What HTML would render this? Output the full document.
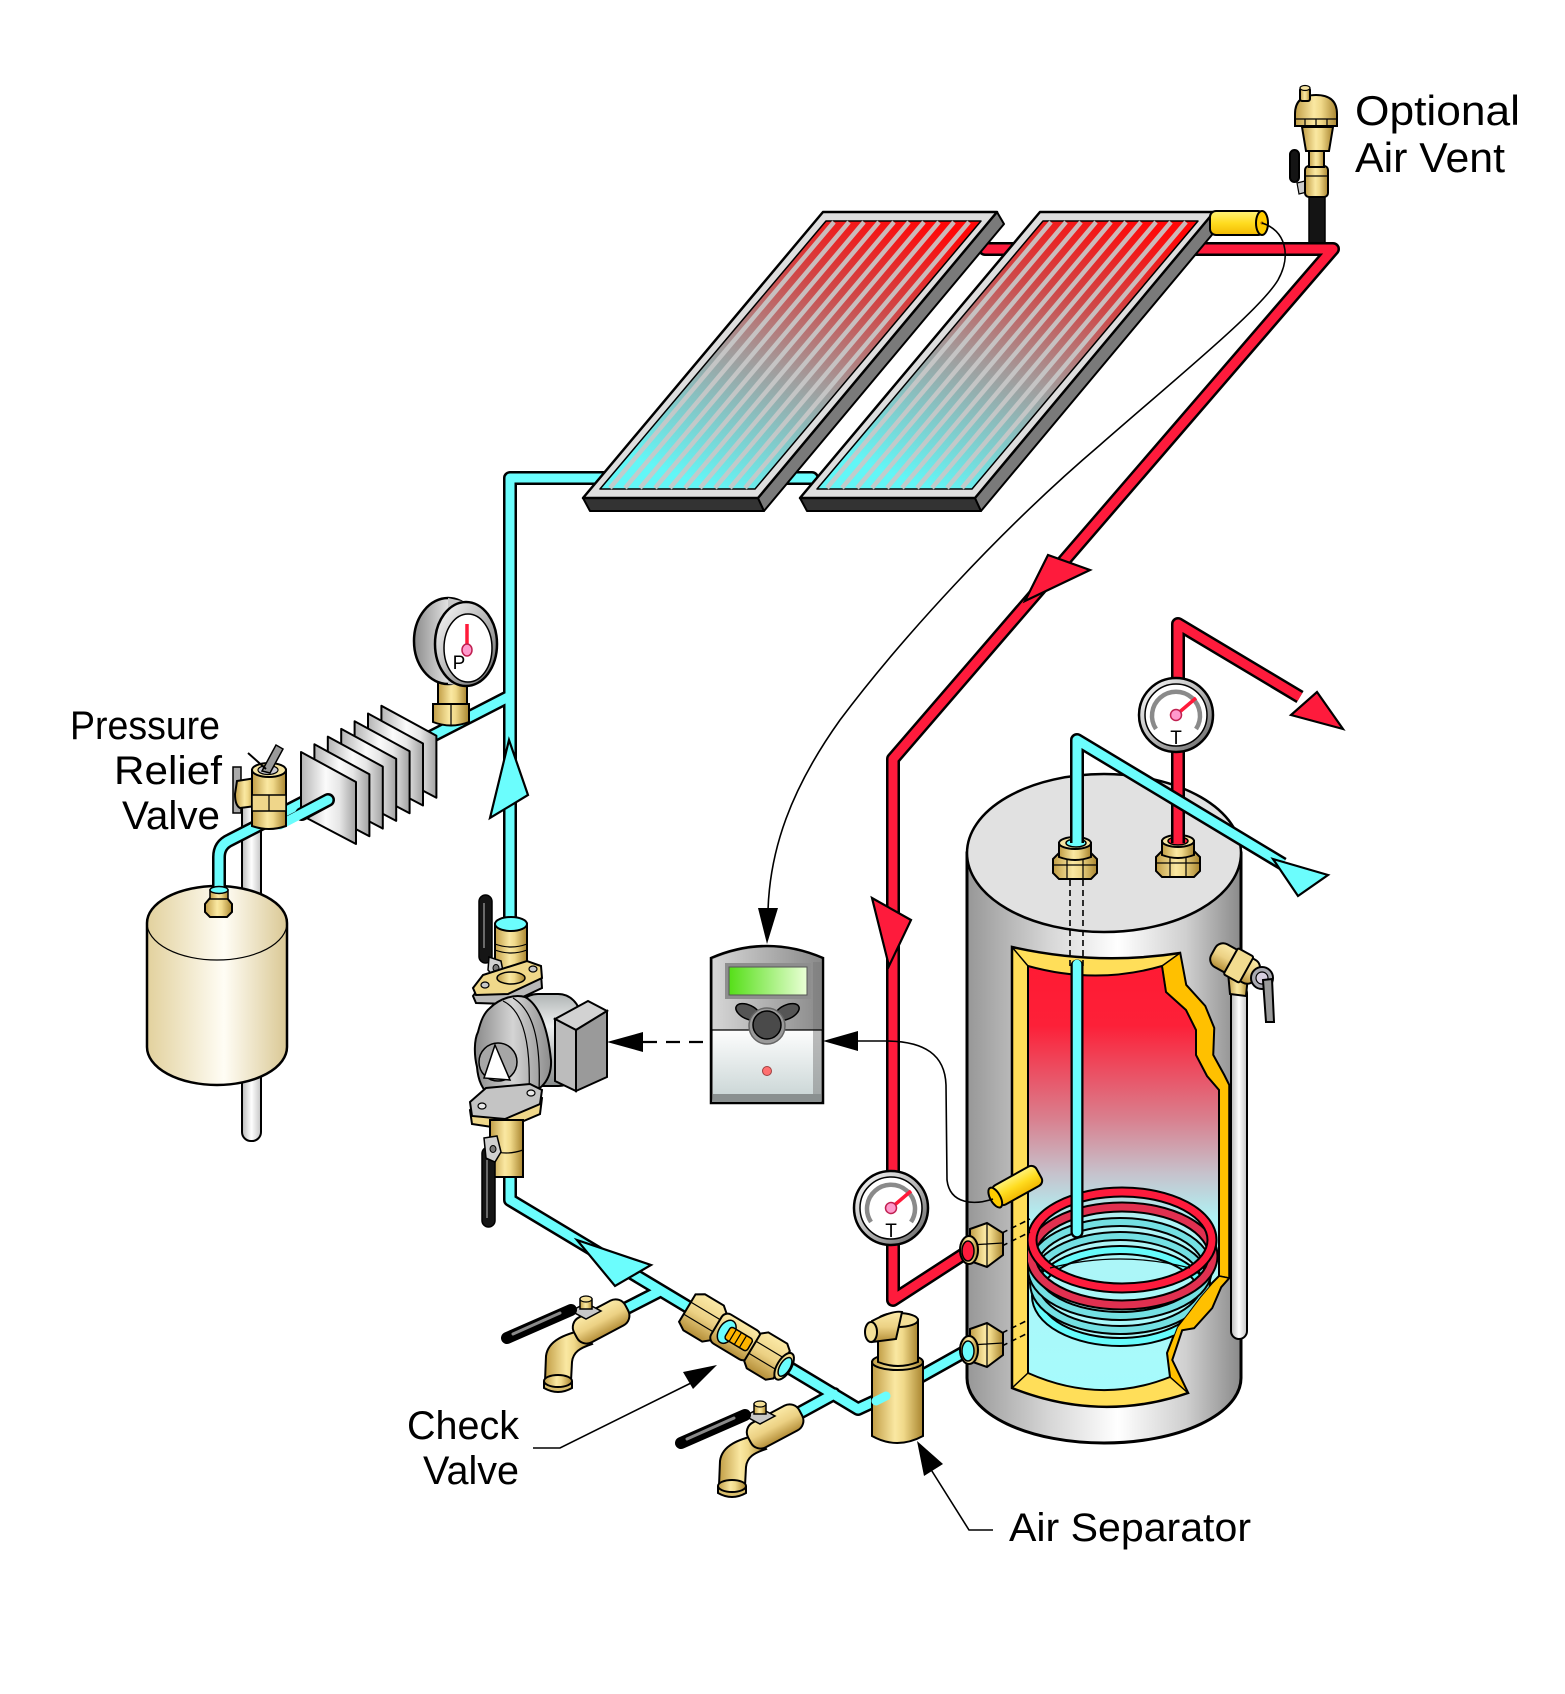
<!DOCTYPE html>
<html><head><meta charset="utf-8"><title>Solar water heating diagram</title>
<style>html,body{margin:0;padding:0;background:#fff;}svg{display:block;}</style></head>
<body>
<svg xmlns="http://www.w3.org/2000/svg" width="1565" height="1694" viewBox="0 0 1565 1694">
<defs>
<linearGradient id="brass" x1="0" y1="0" x2="1" y2="0"><stop offset="0" stop-color="#c19d45"/><stop offset="0.45" stop-color="#fae8a2"/><stop offset="0.62" stop-color="#f0d98a"/><stop offset="1" stop-color="#a9852f"/></linearGradient>
<linearGradient id="brassV" x1="0" y1="0" x2="0" y2="1"><stop offset="0" stop-color="#fbeaa8"/><stop offset="0.5" stop-color="#ecd184"/><stop offset="1" stop-color="#b48e38"/></linearGradient>
<linearGradient id="panelG" x1="0.85" y1="0" x2="0.3" y2="1"><stop offset="0" stop-color="#ff0808"/><stop offset="0.3" stop-color="#cf4848"/><stop offset="0.58" stop-color="#a39a9a"/><stop offset="1" stop-color="#62f6f6"/></linearGradient>
<linearGradient id="steel" x1="0" y1="0" x2="1" y2="0"><stop offset="0" stop-color="#979797"/><stop offset="0.3" stop-color="#d6d6d6"/><stop offset="0.55" stop-color="#ffffff"/><stop offset="0.8" stop-color="#cfcfcf"/><stop offset="1" stop-color="#8a8a8a"/></linearGradient>
<linearGradient id="cut" gradientUnits="userSpaceOnUse" x1="0" y1="966" x2="0" y2="1390"><stop offset="0" stop-color="#ff1a33"/><stop offset="0.14" stop-color="#fd2038"/><stop offset="0.36" stop-color="#d97f8e"/><stop offset="0.49" stop-color="#c6c2cc"/><stop offset="0.6" stop-color="#aef4f6"/><stop offset="1" stop-color="#a6fbfc"/></linearGradient>
<linearGradient id="cream" x1="0" y1="0" x2="1" y2="0"><stop offset="0" stop-color="#e2d19d"/><stop offset="0.55" stop-color="#fffdf5"/><stop offset="1" stop-color="#dac894"/></linearGradient>
<linearGradient id="fin" x1="0" y1="0" x2="1" y2="0"><stop offset="0" stop-color="#b4b4b4"/><stop offset="0.45" stop-color="#fbfbfb"/><stop offset="0.7" stop-color="#e6e6e6"/><stop offset="1" stop-color="#a2a2a2"/></linearGradient>
<linearGradient id="wpipe" x1="0" y1="0" x2="1" y2="0"><stop offset="0" stop-color="#b9b9b9"/><stop offset="0.5" stop-color="#ffffff"/><stop offset="1" stop-color="#c4c4c4"/></linearGradient>
<linearGradient id="pumpG" x1="0" y1="0" x2="1" y2="0"><stop offset="0" stop-color="#8a8a8a"/><stop offset="0.5" stop-color="#d4d4d4"/><stop offset="1" stop-color="#8c8c8c"/></linearGradient>
<linearGradient id="motorG" x1="0" y1="0" x2="0" y2="1"><stop offset="0" stop-color="#b0b4b4"/><stop offset="0.35" stop-color="#eef0f0"/><stop offset="1" stop-color="#868a8a"/></linearGradient>
<linearGradient id="ctrlTop" x1="0" y1="0" x2="1" y2="0"><stop offset="0" stop-color="#d6d6d6"/><stop offset="1" stop-color="#8a8a8a"/></linearGradient>
<linearGradient id="ctrlBot" x1="0" y1="0" x2="0" y2="1"><stop offset="0" stop-color="#fdfdfd"/><stop offset="1" stop-color="#cdd8d8"/></linearGradient>
<linearGradient id="lcd" x1="0" y1="0" x2="1" y2="0"><stop offset="0" stop-color="#55df18"/><stop offset="1" stop-color="#eaffd6"/></linearGradient>
<linearGradient id="bez" x1="0" y1="0" x2="1" y2="1"><stop offset="0" stop-color="#ffffff"/><stop offset="0.5" stop-color="#b9b9b9"/><stop offset="1" stop-color="#5e5e5e"/></linearGradient>
<linearGradient id="yel" x1="0" y1="0" x2="0" y2="1"><stop offset="0" stop-color="#fff27a"/><stop offset="0.5" stop-color="#ffdc20"/><stop offset="1" stop-color="#f2b800"/></linearGradient>
<linearGradient id="gaugeBack" x1="0" y1="0" x2="1" y2="0"><stop offset="0" stop-color="#8c8c8c"/><stop offset="0.6" stop-color="#f2f2f2"/><stop offset="1" stop-color="#9a9a9a"/></linearGradient>
<clipPath id="cutClip"><path d="M1028,966 Q1096,985 1162,966 L1166,992 L1186,1010 L1196,1030 L1196,1055 L1207,1076 L1219,1090 L1219,1276 L1212,1283 L1200,1297 L1188,1313 L1177,1327 L1167,1353 L1170,1377 Q1100,1405 1028,1373 Z"/></clipPath>
</defs>

<rect width="1565" height="1694" fill="#fff"/>

<!-- ================= STORAGE TANK ================= -->
<path d="M967,853 L967,1378 A137,65 0 0 0 1241,1378 L1241,853 Z" fill="url(#steel)" stroke="#000" stroke-width="3"/>
<ellipse cx="1104" cy="853" rx="137" ry="79" fill="#e1e1e1" stroke="#000" stroke-width="2.5"/>
<path d="M1012,947 Q1096,966 1180,953 L1186,985 L1205,1006 L1214,1028 L1213,1055 L1224,1075 L1229,1085 L1229,1278 L1221,1287 L1212,1308 L1194,1328 L1182,1330 L1172,1360 L1188,1393 Q1100,1423 1012,1388 Z" fill="#ffde59" stroke="#000" stroke-width="2.5"/>
<path d="M1180,953 L1186,985 L1205,1006 L1214,1028 L1213,1055 L1224,1075 L1229,1085 L1229,1278 L1219,1276 L1219,1090 L1207,1076 L1196,1055 L1196,1030 L1186,1010 L1166,992 L1162,966 Z" fill="#ffc000" stroke="#000" stroke-width="1.5"/>
<path d="M1229,1278 L1221,1287 L1212,1308 L1194,1328 L1182,1330 L1172,1360 L1188,1393 L1170,1377 L1167,1353 L1177,1327 L1188,1313 L1200,1297 L1212,1283 L1219,1276 Z" fill="#ffc000" stroke="#000" stroke-width="1.5"/>
<path d="M1028,966 Q1096,985 1162,966 L1166,992 L1186,1010 L1196,1030 L1196,1055 L1207,1076 L1219,1090 L1219,1276 L1212,1283 L1200,1297 L1188,1313 L1177,1327 L1167,1353 L1170,1377 Q1100,1405 1028,1373 Z" fill="url(#cut)" stroke="#000" stroke-width="2"/>
<line x1="1012" y1="947" x2="1028" y2="966" stroke="#000" stroke-width="1.5"/>
<line x1="1012" y1="1388" x2="1028" y2="1373" stroke="#000" stroke-width="1.5"/>
<g clip-path="url(#cutClip)" fill="none">
 <ellipse cx="1120" cy="1296" rx="84" ry="46" stroke="#000" stroke-width="10"/>
 <ellipse cx="1120" cy="1296" rx="84" ry="46" stroke="#66fcfc" stroke-width="6"/>
 <ellipse cx="1120" cy="1283" rx="86" ry="47" stroke="#000" stroke-width="10"/>
 <ellipse cx="1120" cy="1283" rx="86" ry="47" stroke="#74e0e3" stroke-width="6"/>
 <ellipse cx="1120" cy="1269" rx="88" ry="47" stroke="#000" stroke-width="10"/>
 <ellipse cx="1120" cy="1269" rx="88" ry="47" stroke="#74e0e3" stroke-width="6"/>
 <ellipse cx="1122" cy="1256" rx="91" ry="49" stroke="#000" stroke-width="11"/>
 <ellipse cx="1122" cy="1256" rx="91" ry="49" stroke="#e03050" stroke-width="7"/>
 <ellipse cx="1122" cy="1240" rx="90" ry="48" stroke="#000" stroke-width="11"/>
 <ellipse cx="1122" cy="1240" rx="90" ry="48" stroke="#fe1b3c" stroke-width="7"/>
 <path d="M1050,1268 Q1120,1250 1190,1268" stroke="#000" stroke-width="1.2"/>
</g>
<line x1="1077" y1="966" x2="1077" y2="1232" stroke="#000" stroke-width="13" stroke-linecap="round"/>
<line x1="1077" y1="964" x2="1077" y2="1232" stroke="#6bfdfd" stroke-width="8.5" stroke-linecap="round"/>
<g stroke="#000" stroke-width="1.6" stroke-dasharray="6 4" fill="none">
 <line x1="1070" y1="880" x2="1070" y2="966"/><line x1="1083" y1="880" x2="1083" y2="966"/>
 <line x1="1002" y1="1233" x2="1030" y2="1219"/><line x1="1002" y1="1246" x2="1030" y2="1232"/>
 <line x1="1002" y1="1333" x2="1028" y2="1320"/><line x1="1002" y1="1346" x2="1028" y2="1333"/>
</g>
<rect x="1231" y="985" width="16" height="354" rx="8" fill="url(#wpipe)" stroke="#000" stroke-width="2"/>
<g stroke="#000" stroke-width="2">
 <path d="M1228,972 L1248,976 L1246,996 L1230,994 Z" fill="url(#brass)"/>
 <g transform="translate(1236,964) rotate(29)">
  <rect x="-26" y="-13" width="50" height="26" rx="9" fill="url(#brassV)"/>
  <rect x="-6" y="-15" width="18" height="30" rx="2" fill="#f2dc90"/>
 </g>
 <circle cx="1262" cy="978" r="11" fill="#a9a9b0"/>
 <circle cx="1262" cy="978" r="6" fill="#d8d0e0" stroke-width="1.2"/>
 <path d="M1263,980 L1272,979 L1274,1022 L1266,1022 Z" fill="#9a9a9a"/>
</g>
<g transform="translate(1075,843)" stroke="#000">
 <path d="M-22,16 L-16,10 L16,10 L22,16 L22,30 L16,36 L-16,36 L-22,30 Z" fill="url(#brass)" stroke-width="2"/>
 <path d="M-8,10 L-8,36 M8,10 L8,36 M-22,22 L22,22" stroke-width="1.2" fill="none"/>
 <path d="M-16,0 L-16,14 Q0,20 16,14 L16,0 Z" fill="url(#brass)" stroke-width="2"/>
 <ellipse cx="0" cy="0" rx="16" ry="6" fill="#f6e4a0" stroke-width="2"/>
 <ellipse cx="1" cy="0" rx="10" ry="4" fill="#6bfdfd" stroke-width="1.5"/>
</g>
<g transform="translate(1178,841)" stroke="#000">
 <path d="M-22,16 L-16,10 L16,10 L22,16 L22,30 L16,36 L-16,36 L-22,30 Z" fill="url(#brass)" stroke-width="2"/>
 <path d="M-8,10 L-8,36 M8,10 L8,36 M-22,22 L22,22" stroke-width="1.2" fill="none"/>
 <path d="M-16,0 L-16,14 Q0,20 16,14 L16,0 Z" fill="url(#brass)" stroke-width="2"/>
 <ellipse cx="0" cy="0" rx="16" ry="6" fill="#f6e4a0" stroke-width="2"/>
 <ellipse cx="0" cy="0" rx="10" ry="4" fill="#fe1b3c" stroke-width="1.5"/>
</g>
<g transform="translate(1018,1185) rotate(-29)" stroke="#000" stroke-width="2">
 <rect x="-26" y="-11" width="50" height="22" rx="6" fill="url(#yel)"/>
 <ellipse cx="-26" cy="0" rx="5" ry="11" fill="#ffcc00"/>
</g>

<!-- ================= EXPANSION TANK ================= -->
<rect x="242" y="800" width="19" height="341" rx="9" fill="url(#wpipe)" stroke="#000" stroke-width="2"/>
<path d="M147,923 A70,37 0 0 1 287,923 L287,1047 A70,38 0 0 1 147,1047 Z" fill="url(#cream)" stroke="#000" stroke-width="2.5"/>
<path d="M147,923 A70,37 0 0 0 287,923" fill="none" stroke="#000" stroke-width="1.2"/>

<rect x="1309" y="195" width="16" height="52" fill="#141414" stroke="#000" stroke-width="1.5"/>

<!-- ================= PIPE NETWORKS ================= -->
<g fill="none" stroke-linecap="round" stroke-linejoin="round">
 <path d="M985,249 L1333,249 L893,759 L893,1300 L967,1252" stroke="#000" stroke-width="14"/>
 <path d="M985,249 L1333,249 L893,759 L893,1300 L967,1252" stroke="#fe1b3c" stroke-width="9"/>
 <path d="M812,478 L510,478 L510,918 M219,896 L219,857 Q219,845 230,840 L510,696" stroke="#000" stroke-width="14"/>
 <path d="M812,478 L510,478 L510,918 M219,896 L219,857 Q219,845 230,840 L510,696" stroke="#6bfdfd" stroke-width="9"/>
 <path d="M510,1176 L510,1200 L858,1409 L886,1396 M660,1291 L615,1314 M834,1394 L792,1417" stroke="#000" stroke-width="14"/>
 <path d="M510,1176 L510,1200 L858,1409 L886,1396 M660,1291 L615,1314 M834,1394 L792,1417" stroke="#6bfdfd" stroke-width="9"/>
 <path d="M918,1378 L968,1350" stroke="#000" stroke-width="14"/>
 <path d="M918,1378 L968,1350" stroke="#6bfdfd" stroke-width="9"/>
</g>

<!-- ================= COLLECTOR PANELS ================= -->
<g id="panel" stroke="#000" stroke-linejoin="round">
 <polygon points="583,498 758,498 764,511 590,511" fill="#333" stroke-width="2"/>
 <polygon points="997,212 1004,224 764,511 758,498" fill="#7a7a7a" stroke-width="2"/>
 <polygon points="823,212 997,212 758,498 583,498" fill="#dedede" stroke-width="2.5"/>
 <polygon points="826,221 981,221 755,489 600,489" fill="url(#panelG)" stroke-width="1.5"/>
 <path d="M834,222 l-224,266 M849,222 l-224,266 M864,222 l-224,266 M879,222 l-224,266 M894,222 l-224,266 M909,222 l-224,266 M924,222 l-224,266 M939,222 l-224,266 M954,222 l-224,266 M969,222 l-224,266" stroke="#c8c8c8" stroke-width="4.5" fill="none" opacity="0.92"/>
</g>
<use href="#panel" transform="translate(217,0)"/>

<g stroke="#000" stroke-width="2">
 <rect x="1210" y="211" width="54" height="24" rx="6" fill="url(#yel)"/>
 <ellipse cx="1262" cy="223" rx="6" ry="12" fill="#ffcc00"/>
 <circle cx="1262" cy="223" r="1.5" fill="#a06000" stroke="none"/>
</g>

<g stroke="#000" stroke-width="2">
 <rect x="1290" y="150" width="9" height="32" rx="4.5" fill="#141414"/>
 <path d="M1297,183 L1305,181 L1307,192 L1299,194 Z" fill="#ccc" stroke-width="1.2"/>
 <rect x="1305" y="166" width="23" height="31" rx="4" fill="url(#brass)"/>
 <path d="M1305,176 L1328,176" stroke-width="1.2"/>
 <rect x="1309" y="150" width="15" height="17" fill="url(#brass)"/>
 <path d="M1302,127 L1333,127 L1329,151 L1306,151 Z" fill="url(#brass)"/>
 <path d="M1295,114 Q1295,95 1316,95 Q1337,95 1337,114 L1337,126 L1295,126 Z" fill="url(#brass)"/>
 <path d="M1295,119 L1337,119 M1305,119 L1305,126 M1316,119 L1316,126 M1327,119 L1327,126" stroke-width="1.2" fill="none"/>
 <rect x="1300" y="88" width="10" height="13" rx="2" fill="url(#brass)"/>
 <ellipse cx="1305" cy="88" rx="5" ry="2.5" fill="#f6e4a0" stroke-width="1.2"/>
</g>

<path d="M1262,223 C1285,230 1292,255 1278,280 C1260,310 1180,375 1100,445 C1000,530 900,640 840,720 C790,790 770,850 768,910" fill="none" stroke="#000" stroke-width="1.6"/>
<polygon points="758,908 778,908 767,944" fill="#000"/>

<g fill="none" stroke-linejoin="round">
 <path d="M1178,843 L1178,624 L1300,697" stroke="#000" stroke-width="14"/>
 <path d="M1178,843 L1178,624 L1300,697" stroke="#fe1b3c" stroke-width="9"/>
</g>
<g transform="translate(1176,715)">
 <circle r="37" fill="url(#bez)" stroke="#000" stroke-width="2.5"/>
 <circle r="31" fill="#fff" stroke="#000" stroke-width="1.5"/>
 <path d="M-20,14 A24,24 0 1 1 20,14" fill="none" stroke="#8a8a8a" stroke-width="4.5"/>
 <line x1="0" y1="0" x2="20" y2="-17" stroke="#ff1a3a" stroke-width="3.5"/>
 <circle r="5.5" fill="#ff99cc" stroke="#c02050" stroke-width="1.5"/>
 <text x="0" y="29" text-anchor="middle" font-family="Liberation Sans, sans-serif" font-size="19">T</text>
</g>
<g fill="none" stroke-linejoin="round">
 <path d="M1077,843 L1077,740 L1283,864" stroke="#000" stroke-width="14"/>
 <path d="M1077,843 L1077,740 L1283,864" stroke="#6bfdfd" stroke-width="9"/>
</g>

<g stroke="#000" stroke-width="2.2" stroke-linejoin="miter">
 <polygon points="1025,601 1048,555 1090,570" fill="#fe1b3c"/>
 <polygon points="872,898 911,920 889,966" fill="#fe1b3c"/>
 <polygon points="1343,729 1291,715 1317,692" fill="#fe1b3c"/>
 <polygon points="1273,859 1328,875 1298,896" fill="#6bfdfd"/>
 <polygon points="509,740 528,795 490,818" fill="#6bfdfd"/>
 <polygon points="577,1240 651,1265 615,1286" fill="#6bfdfd"/>
</g>

<!-- ================= HEAT DISSIPATOR FINS ================= -->
<g stroke="#000" stroke-width="2" stroke-linejoin="round" fill="url(#fin)">
 <polygon points="0,0 55,30 55,92 0,63" transform="translate(381.4,705.8)"/>
 <polygon points="0,0 55,30 55,92 0,63" transform="translate(368,713.5)"/>
 <polygon points="0,0 55,30 55,92 0,63" transform="translate(354.6,721.2)"/>
 <polygon points="0,0 55,30 55,92 0,63" transform="translate(341.2,728.9)"/>
 <polygon points="0,0 55,30 55,92 0,63" transform="translate(327.8,736.6)"/>
 <polygon points="0,0 55,30 55,92 0,63" transform="translate(314.4,744.3)"/>
 <polygon points="0,0 55,30 55,92 0,63" transform="translate(301,752)"/>
</g>
<path d="M302,814 L328,800" stroke="#000" stroke-width="14" stroke-linecap="round"/>
<path d="M280,825 L328,800" stroke="#6bfdfd" stroke-width="9" stroke-linecap="round"/>

<g stroke="#000">
 <rect x="233" y="767" width="8" height="46" fill="#aaa" stroke-width="1.5"/>
 <path d="M237,781 L256,778 L256,806 L240,808 C236,806 235,800 235,794 Z" fill="url(#brass)" stroke-width="2"/>
 <path d="M252,770 L286,770 L286,826 Q269,832 252,826 Z" fill="url(#brass)" stroke-width="2"/>
 <rect x="252" y="795" width="34" height="16" fill="#efd68a" stroke-width="1.5"/>
 <line x1="269" y1="795" x2="269" y2="811" stroke-width="1.2"/>
 <ellipse cx="269" cy="770" rx="17" ry="7" fill="#f5e3a0" stroke-width="2"/>
 <ellipse cx="268" cy="770" rx="10" ry="4.5" fill="#c8c8d0" stroke-width="1.2"/>
 <path d="M262,771 L276,745 L283,749 L270,773 Z" fill="#9a9a9a" stroke-width="1.5"/>
 <line x1="248" y1="753" x2="266" y2="769" stroke-width="2"/>
</g>

<g stroke="#000">
 <rect x="438" y="680" width="29" height="26" fill="url(#brass)" stroke-width="2"/>
 <path d="M433,704 L469,704 L469,722 Q451,729 433,722 Z" fill="url(#brass)" stroke-width="2"/>
 <line x1="451" y1="704" x2="451" y2="726" stroke-width="1.2"/>
 <ellipse cx="448" cy="641" rx="34" ry="43" fill="url(#gaugeBack)" stroke-width="2.5"/>
 <polygon points="448,598 466,602 466,686 448,684" fill="#c8c8c8" stroke="none"/>
 <ellipse cx="466" cy="644" rx="31" ry="42" fill="url(#bez)" stroke-width="2.5"/>
 <ellipse cx="468" cy="648" rx="24" ry="34" fill="#fff" stroke-width="1.5"/>
 <line x1="467" y1="624" x2="467" y2="646" stroke="#ff1a3a" stroke-width="3.5"/>
 <ellipse cx="467" cy="650" rx="5" ry="6" fill="#ff99cc" stroke="#c02050" stroke-width="1.5"/>
 <text x="459" y="669" text-anchor="middle" font-family="Liberation Sans, sans-serif" font-size="19" stroke="none" fill="#000">P</text>
</g>

<g stroke="#000">
 <path d="M205,904 L210,898 L227,898 L232,904 L232,912 L227,917 L210,917 L205,912 Z" fill="url(#brass)" stroke-width="2"/>
 <rect x="210" y="890" width="18" height="9" fill="url(#brass)" stroke-width="1.5"/>
 <ellipse cx="219" cy="890" rx="9" ry="3.5" fill="#6bfdfd" stroke-width="1.5"/>
</g>

<!-- ================= PUMP ASSEMBLY ================= -->
<g stroke="#000">
 <rect x="479" y="895" width="13" height="68" rx="6.5" fill="#151515" stroke-width="1.5"/>
 <line x1="484" y1="903" x2="484" y2="948" stroke="#6a6a6a" stroke-width="2"/>
 <rect x="495" y="924" width="32" height="54" fill="url(#brass)" stroke-width="2"/>
 <ellipse cx="511" cy="924" rx="16" ry="7" fill="#6bfdfd" stroke-width="2"/>
 <path d="M495,944 Q511,950 527,944 M495,950 Q511,956 527,950" fill="none" stroke-width="1.2"/>
 <path d="M489,957 L501,961 L504,976 L495,978 L488,970 Z" fill="#d0d0d0" stroke-width="1.5"/>
 <ellipse cx="496" cy="968" rx="3" ry="3.5" fill="#7a7a7a" stroke-width="1"/>
 <path d="M473,996 L483,983 L527,969 L541,974 L542,988 L508,1004 L476,1003 Z" fill="#b9b9b9" stroke-width="2"/>
 <path d="M473,988 L483,975 L527,961 L541,966 L542,978 L508,994 L476,995 Z" fill="#f0d88a" stroke-width="2"/>
 <ellipse cx="485" cy="985" rx="4" ry="3" fill="#c8c8c8" stroke-width="1.2"/>
 <ellipse cx="533" cy="969" rx="4" ry="3" fill="#c8c8c8" stroke-width="1.2"/>
 <ellipse cx="511" cy="978" rx="14" ry="6" fill="url(#brass)" stroke-width="1.5"/>
 <rect x="516" y="994" width="64" height="92" rx="22" fill="url(#motorG)" stroke-width="2"/>
 <polygon points="555,1019 588,1001 607,1011 576,1030" fill="#d2d2d2" stroke-width="2"/>
 <polygon points="555,1019 576,1030 576,1091 555,1081" fill="#bcbcbc" stroke-width="2"/>
 <polygon points="576,1030 607,1011 607,1077 576,1091" fill="#9a9a9a" stroke-width="2"/>
 <path d="M490,1008 C500,998 515,994 525,997 C540,1005 548,1030 551,1060 C552,1080 540,1093 523,1094 L492,1098 C482,1090 478,1080 477,1067 C474,1055 474,1040 478,1032 C481,1020 484,1013 490,1008 Z" fill="url(#pumpG)" stroke-width="2"/>
 <path d="M503,1001 C522,1010 531,1040 529,1092 M513,998 C533,1010 541,1040 539,1091" fill="none" stroke-width="1.2"/>
 <circle cx="498" cy="1062" r="19" fill="#a6a6a6" stroke-width="1.5"/>
 <polygon points="495,1045 510,1080 484,1078" fill="#fff" stroke-width="1.5"/>
 <path d="M470,1110 L486,1096 L530,1092 L542,1098 L540,1114 L505,1129 L472,1124 Z" fill="#f0d88a" stroke-width="2"/>
 <path d="M470,1102 L486,1088 L530,1084 L542,1090 L540,1104 L505,1119 L472,1116 Z" fill="#c4c4c4" stroke-width="2"/>
 <ellipse cx="482" cy="1106" rx="4" ry="3" fill="#e8e8e8" stroke-width="1.2"/>
 <ellipse cx="531" cy="1093" rx="4" ry="3" fill="#e8e8e8" stroke-width="1.2"/>
 <rect x="490" y="1120" width="33" height="57" fill="url(#brass)" stroke-width="2"/>
 <path d="M490,1150 Q506,1156 523,1150" fill="none" stroke-width="1.2"/>
 <rect x="482" y="1147" width="13" height="80" rx="6.5" fill="#151515" stroke-width="1.5"/>
 <line x1="487" y1="1160" x2="487" y2="1218" stroke="#6a6a6a" stroke-width="2"/>
 <path d="M484,1138 L497,1136 L501,1152 L495,1162 L486,1158 Z" fill="#d0d0d0" stroke-width="1.5"/>
 <ellipse cx="493" cy="1149" rx="3" ry="3.5" fill="#7a7a7a" stroke-width="1"/>
</g>

<!-- ================= CHECK VALVE ================= -->
<g transform="translate(737,1338) rotate(31)" stroke="#000" stroke-width="2">
 <path d="M-58,-16 L-50,-21 L-28,-21 L-22,-16 L-22,16 L-28,21 L-50,21 L-58,16 Z" fill="url(#brassV)"/>
 <path d="M-58,-7 L-22,-7 M-58,7 L-22,7" stroke-width="1.2"/>
 <rect x="-24" y="-17" width="44" height="34" rx="7" fill="url(#brassV)"/>
 <path d="M18,-16 L24,-21 L46,-21 L52,-16 L52,16 L46,21 L24,21 L18,16 Z" fill="url(#brassV)"/>
 <path d="M18,-7 L52,-7 M18,7 L52,7" stroke-width="1.2"/>
 <ellipse cx="55" cy="0" rx="7" ry="15" fill="#f2dc90"/>
 <ellipse cx="56" cy="0" rx="5" ry="10.5" fill="#6bfdfd" stroke-width="1.5"/>
 <ellipse cx="-12" cy="0" rx="8" ry="12.5" fill="#6bfdfd" stroke-width="1.5"/>
 <rect x="-11" y="-7" width="26" height="14" rx="3" fill="#ffb400" stroke-width="1.5"/>
 <path d="M-5,-7 L-5,7 M1,-7 L1,7 M7,-7 L7,7" stroke-width="1.2"/>
</g>

<!-- ================= DRAIN VALVES ================= -->
<g id="drain" stroke="#000">
 <path d="M583,1330 C566,1334 548,1340 546,1356 L545,1381 L571,1381 L572,1362 C573,1352 580,1348 592,1344 Z" fill="url(#brass)" stroke-width="2"/>
 <path d="M544,1381 L544,1388 Q558,1396 572,1388 L572,1381" fill="#d9be6c" stroke-width="2"/>
 <ellipse cx="558" cy="1381" rx="14" ry="6" fill="url(#brass)" stroke-width="2"/>
 <g transform="translate(602,1321) rotate(-28)">
  <rect x="-30" y="-14" width="58" height="28" rx="11" fill="url(#brassV)" stroke-width="2"/>
 </g>
 <polygon points="571,1311 586,1303 601,1311 586,1319" fill="#c8c8c8" stroke-width="1.5"/>
 <rect x="580" y="1299" width="12" height="10" fill="url(#brass)" stroke-width="1.5"/>
 <ellipse cx="586" cy="1299" rx="6" ry="3" fill="#f3df98" stroke-width="1.2"/>
 <path d="M507,1338 L571,1310" stroke-width="12" stroke-linecap="round"/>
 <path d="M513,1334 L560,1313" stroke="#8a8a8a" stroke-width="3" stroke-linecap="round"/>
</g>
<use href="#drain" transform="translate(174,105)"/>

<!-- ================= AIR SEPARATOR ================= -->
<g stroke="#000" stroke-width="2">
 <path d="M872,1362 L872,1436 Q897,1450 923,1436 L923,1362 Z" fill="url(#brass)"/>
 <ellipse cx="897.5" cy="1362" rx="25.5" ry="8" fill="url(#brass)"/>
 <path d="M878,1320 L878,1362 Q898,1370 918,1362 L918,1320 Z" fill="url(#brass)"/>
 <ellipse cx="898" cy="1320" rx="20" ry="7" fill="#f3df98"/>
 <path d="M902,1312 Q893,1310 872,1321 L872,1342 L896,1339 Z" fill="url(#brassV)"/>
 <ellipse cx="871" cy="1332" rx="6" ry="10" fill="#f3df98"/>
</g>
<path d="M876,1401 L886,1396" stroke="#6bfdfd" stroke-width="9" stroke-linecap="round"/>

<g transform="translate(985,1247)" stroke="#000">
 <path d="M-15,-18 L2,-24 L18,-14 L18,8 L2,20 L-15,14 Z" fill="url(#brass)" stroke-width="2"/>
 <path d="M2,-24 L2,20 M-15,-2 L18,-4" stroke-width="1.2" fill="none"/>
 <ellipse cx="-16" cy="3" rx="9" ry="14" fill="url(#brass)" stroke-width="2"/>
 <ellipse cx="-17" cy="4" rx="6" ry="10" fill="#fe1b3c" stroke-width="1.5"/>
</g>
<g transform="translate(985,1347)" stroke="#000">
 <path d="M-15,-18 L2,-24 L18,-14 L18,8 L2,20 L-15,14 Z" fill="url(#brass)" stroke-width="2"/>
 <path d="M2,-24 L2,20 M-15,-2 L18,-4" stroke-width="1.2" fill="none"/>
 <ellipse cx="-16" cy="3" rx="9" ry="14" fill="url(#brass)" stroke-width="2"/>
 <ellipse cx="-17" cy="4" rx="6" ry="10" fill="#6bfdfd" stroke-width="1.5"/>
</g>

<g transform="translate(891,1208)">
 <circle r="37" fill="url(#bez)" stroke="#000" stroke-width="2.5"/>
 <circle r="31" fill="#fff" stroke="#000" stroke-width="1.5"/>
 <path d="M-20,14 A24,24 0 1 1 20,14" fill="none" stroke="#8a8a8a" stroke-width="4.5"/>
 <line x1="0" y1="0" x2="20" y2="-17" stroke="#ff1a3a" stroke-width="3.5"/>
 <circle r="5.5" fill="#ff99cc" stroke="#c02050" stroke-width="1.5"/>
 <text x="0" y="29" text-anchor="middle" font-family="Liberation Sans, sans-serif" font-size="19">T</text>
</g>

<!-- ================= CONTROLLER ================= -->
<g stroke="#000">
 <path d="M711,958 Q767,934 823,958 L823,1103 L711,1103 Z" fill="#999" stroke-width="2.5"/>
 <path d="M713,959 Q767,936 821,959 L821,1030 L713,1030 Z" fill="url(#ctrlTop)" stroke="none"/>
 <rect x="713" y="1030" width="108" height="64" fill="url(#ctrlBot)" stroke="none"/>
 <polygon points="713,1094 821,1094 821,1102 712,1102" fill="#8a9090" stroke="none"/>
 <rect x="813" y="962" width="8" height="132" fill="#7a7a7a" opacity="0.5" stroke="none"/>
 <line x1="712" y1="1030" x2="822" y2="1030" stroke-width="1.2"/>
 <rect x="725" y="963" width="86" height="36" fill="#8e8e8e" stroke="none"/>
 <rect x="729" y="967" width="78" height="28" fill="url(#lcd)" stroke="#555" stroke-width="1"/>
 <ellipse cx="748" cy="1012" rx="13" ry="7" transform="rotate(25 748 1012)" fill="#555" stroke-width="1.5"/>
 <ellipse cx="787" cy="1012" rx="13" ry="7" transform="rotate(-25 787 1012)" fill="#555" stroke-width="1.5"/>
 <circle cx="767" cy="1026" r="18" fill="#9a9a9a" stroke="#666" stroke-width="1.5"/>
 <circle cx="767" cy="1025" r="14" fill="#4a4a4a" stroke-width="1.5"/>
 <circle cx="767" cy="1071" r="4.5" fill="#ff7070" stroke="#a04040" stroke-width="1"/>
</g>
<line x1="643" y1="1042" x2="711" y2="1042" stroke="#000" stroke-width="2.2" stroke-dasharray="14 9"/>
<polygon points="607,1042 643,1032 643,1052" fill="#000"/>
<path d="M993,1199 C975,1205 950,1205 947,1180 L946,1085 C945,1055 925,1041 885,1041 L855,1041" fill="none" stroke="#000" stroke-width="1.6"/>
<polygon points="823,1041 858,1031 858,1051" fill="#000"/>

<!-- ================= LABELS ================= -->
<g font-family="Liberation Sans, sans-serif" fill="#000">
 <text x="1355" y="125" font-size="42" textLength="165" lengthAdjust="spacingAndGlyphs">Optional</text>
 <text x="1355" y="172" font-size="42" textLength="150" lengthAdjust="spacingAndGlyphs">Air Vent</text>
 <text x="70" y="739" font-size="40" textLength="150" lengthAdjust="spacingAndGlyphs">Pressure</text>
 <text x="114" y="784" font-size="40" textLength="108" lengthAdjust="spacingAndGlyphs">Relief</text>
 <text x="122" y="829" font-size="40" textLength="98" lengthAdjust="spacingAndGlyphs">Valve</text>
 <text x="407" y="1439" font-size="40" textLength="112" lengthAdjust="spacingAndGlyphs">Check</text>
 <text x="423" y="1484" font-size="40" textLength="96" lengthAdjust="spacingAndGlyphs">Valve</text>
 <text x="1009" y="1541" font-size="40" textLength="242" lengthAdjust="spacingAndGlyphs">Air Separator</text>
</g>
<path d="M533,1448 L560,1448 L697,1380" fill="none" stroke="#000" stroke-width="1.6"/>
<polygon points="717,1365 683,1372 693,1389" fill="#000"/>
<path d="M993,1530 L969,1530 L930,1468" fill="none" stroke="#000" stroke-width="1.6"/>
<polygon points="917,1441 924,1476 943,1464" fill="#000"/>
</svg>
</body></html>
